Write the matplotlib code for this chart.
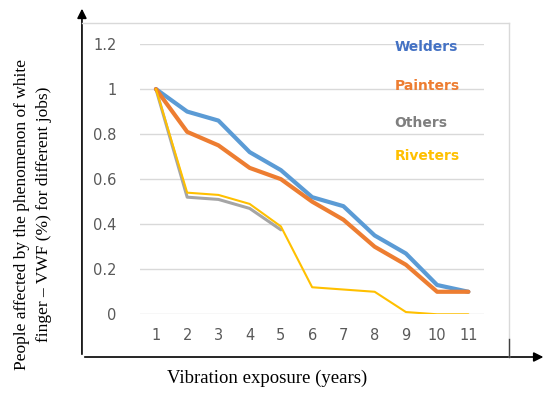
import numpy as np
import matplotlib
matplotlib.use("Agg")
import matplotlib.pyplot as plt
from matplotlib.lines import Line2D

years = [1, 2, 3, 4, 5, 6, 7, 8, 9, 10, 11]
welders = [1.0, 0.90, 0.86, 0.72, 0.64, 0.52, 0.48, 0.35, 0.27, 0.13, 0.10]
painters = [1.0, 0.81, 0.75, 0.65, 0.60, 0.50, 0.42, 0.30, 0.22, 0.10, 0.10]
others = [1.0, 0.52, 0.51, 0.47, 0.375]
riveters = [1.0, 0.54, 0.53, 0.49, 0.39, 0.12, 0.11, 0.10, 0.01, 0.0, 0.0]
yticks = [0, 0.2, 0.4, 0.6, 0.8, 1, 1.2]
ytick_labels = ["0", "0.2", "0.4", "0.6", "0.8", "1", "1.2"]

fig = plt.figure(figsize=(5.5, 3.94), dpi=100)
ax = fig.add_axes([0.2551, 0.2023, 0.6249, 0.686])

ax.plot(years, welders, color="#5B9BD5", lw=3.0, solid_capstyle="round", zorder=4)
ax.plot(years, painters, color="#ED7D31", lw=3.0, solid_capstyle="round", zorder=5)
ax.plot(years[:len(others)], others, color="#A5A5A5", lw=2.2, solid_capstyle="round", zorder=3)
ax.plot(years, riveters, color="#FFC000", lw=1.5, solid_capstyle="round", zorder=6)

ax.set_xlim(0.5, 11.5)
ax.set_ylim(0, 1.2)
ax.set_yticks(yticks)
ax.set_yticklabels(ytick_labels)
ax.set_xticks(years)
ax.grid(axis="y", color="#D9D9D9", lw=1.0)
ax.set_axisbelow(True)
for s in ax.spines.values():
    s.set_visible(False)
ax.tick_params(axis="both", length=0, labelsize=10.5, labelcolor="#595959")
ax.tick_params(axis="y", pad=17)
ax.tick_params(axis="x", pad=10)

# legend as coloured labels
lx = 0.74
for name, col, ly in [("Welders", "#4472C4", 0.99), ("Painters", "#ED7D31", 0.845),
                      ("Others", "#7F7F7F", 0.707), ("Riveters", "#FFC000", 0.587)]:
    ax.text(lx, ly, name, color=col, fontsize=10, fontweight="bold",
            transform=ax.transAxes, va="center", ha="left")

# outer frame: light box + black arrowed axes
fig.add_artist(Line2D([0.149, 0.9255], [0.9416, 0.9416], color="#D9D9D9", lw=1.0))
fig.add_artist(Line2D([0.9255, 0.9255], [0.9416, 0.0939], color="#D9D9D9", lw=1.0))
fig.add_artist(Line2D([0.9255, 0.9255], [0.0939, 0.14], color="#404040", lw=1.0))
ax.annotate("", xy=(0.149, 0.985), xytext=(0.149, 0.0939), xycoords="figure fraction",
            textcoords="figure fraction",
            arrowprops=dict(arrowstyle="-|>", color="black", lw=1.2, mutation_scale=14))
ax.annotate("", xy=(0.993, 0.0939), xytext=(0.149, 0.0939), xycoords="figure fraction",
            textcoords="figure fraction",
            arrowprops=dict(arrowstyle="-|>", color="black", lw=1.2, mutation_scale=14))

fig.text(0.485, 0.04, "Vibration exposure (years)", fontsize=13.5, family="Liberation Serif",
         ha="center", va="center")
fig.text(0.06, 0.455, "People affected by the phenomenon of white\nfinger – VWF (%) for different jobs)",
         fontsize=12.5, family="Liberation Serif", rotation=90, ha="center", va="center",
         linespacing=1.45)

fig.savefig("out.png", dpi=100)
